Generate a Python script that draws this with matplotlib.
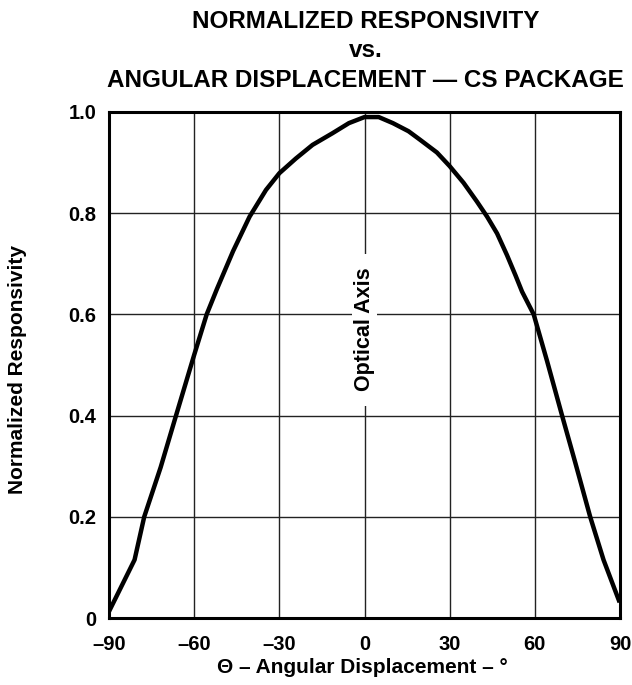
import matplotlib
matplotlib.use('Agg')
import matplotlib.pyplot as plt

plt.rcParams['font.family'] = ['Liberation Sans', 'DejaVu Sans']
plt.rcParams['font.weight'] = 'bold'

# curve
angle = [-90, -81, -77.6, -71.8, -66.4, -60, -55.6, -52, -46.3, -40.5, -34.7, -30,
         -24.2, -18.3, -11.3, -5.5, 0, 5, 10, 15.5, 19.6, 25.5, 30, 34.9, 39.6,
         43.2, 46.7, 50.2, 53.2, 55.5, 59.6, 64.3, 69.6, 74.3, 79.5, 84.2, 89.6]
resp = [0.013, 0.115, 0.2, 0.298, 0.4, 0.52, 0.6, 0.65, 0.725, 0.793, 0.846, 0.879,
        0.908, 0.935, 0.958, 0.978, 0.99, 0.99, 0.978, 0.962, 0.945, 0.92, 0.893, 0.86, 0.823,
        0.793, 0.76, 0.717, 0.677, 0.645, 0.6, 0.508, 0.4, 0.306, 0.2, 0.115, 0.035]

xticks = [-90, -60, -30, 0, 30, 60, 90]
xtick_labels = ['\u201390', '\u201360', '\u201330', '0', '30', '60', '90']
yticks = [0, 0.2, 0.4, 0.6, 0.8, 1.0]
ytick_labels = ['0', '0.2', '0.4', '0.6', '0.8', '1.0']

fig = plt.figure(figsize=(6.32, 6.85), dpi=100)
ax = fig.add_axes([0.1725, 0.0978, 0.8085, 0.7387])

ax.plot(angle, resp, color='black', lw=3.2, solid_joinstyle='round', zorder=3)

ax.set_xlim(-90, 90)
ax.set_ylim(0, 1.0)
ax.set_xticks(xticks)
ax.set_xticklabels(xtick_labels)
ax.set_yticks(yticks)
ax.set_yticklabels(ytick_labels)
ax.tick_params(length=0, labelsize=14.5)
ax.tick_params(axis='x', pad=12)
ax.tick_params(axis='y', pad=9)
ax.grid(True, color='#222222', lw=1.0)
for s in ax.spines.values():
    s.set_linewidth(2.2)

ax.text(0, 0.57, '  Optical Axis  ', rotation=90, ha='center', va='center',
        fontsize=15.5, fontweight='bold',
        bbox=dict(facecolor='white', edgecolor='none', pad=1.5), zorder=4)

fig.text(0.028, 0.46, 'Normalized Responsivity', rotation=90, ha='center', va='center',
         fontsize=15, fontweight='bold')
fig.text(0.574, 0.026, '\u0398 \u2013 Angular Displacement \u2013 \u00b0', ha='center', va='center',
         fontsize=15, fontweight='bold')

fig.text(0.578, 0.968, 'NORMALIZED RESPONSIVITY', ha='center', va='center', fontsize=17.5, fontweight='bold')
fig.text(0.578, 0.927, 'vs.', ha='center', va='center', fontsize=17.5, fontweight='bold')
fig.text(0.578, 0.883, 'ANGULAR DISPLACEMENT \u2014 CS PACKAGE', ha='center', va='center',
         fontsize=17.5, fontweight='bold')

fig.savefig('out.png', dpi=100)
plt.close(fig)
